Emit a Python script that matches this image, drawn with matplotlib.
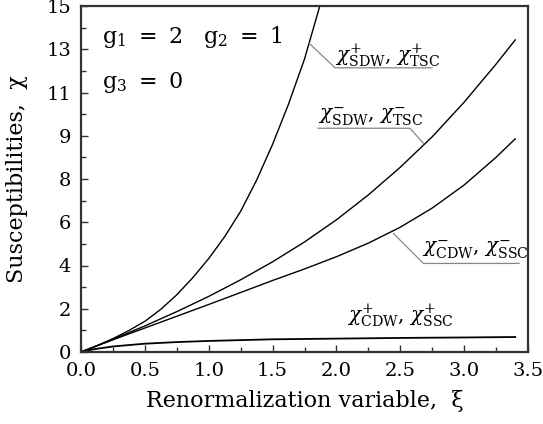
import matplotlib
matplotlib.use("Agg")
import matplotlib.pyplot as plt
from matplotlib.ticker import FixedLocator, MultipleLocator
import numpy as np

plt.rcParams['font.family'] = ['DejaVu Serif']
plt.rcParams['mathtext.fontset'] = 'dejavuserif'

# ---- data ----
xi_sdw_plus = [0.0, 0.125, 0.25, 0.375, 0.5, 0.625, 0.75, 0.875, 1.0, 1.125,
               1.25, 1.375, 1.5, 1.625, 1.75, 1.87]
chi_sdw_plus = [0.0, 0.27, 0.58, 0.93, 1.33, 1.85, 2.48, 3.22, 4.05, 5.0,
                6.1, 7.45, 9.0, 10.75, 12.7, 15.0]

xi_main = [0.0, 0.25, 0.5, 0.75, 1.0, 1.25, 1.5, 1.75, 2.0, 2.25, 2.5, 2.75, 3.0, 3.25, 3.4]
chi_sdw_minus = [0.0, 0.55, 1.13, 1.75, 2.41, 3.13, 3.91, 4.77, 5.73, 6.81, 8.01, 9.33, 10.83, 12.48, 13.53]
chi_cdw_minus = [0.0, 0.53, 1.04, 1.55, 2.06, 2.58, 3.1, 3.6, 4.13, 4.72, 5.41, 6.24, 7.24, 8.44, 9.24]

xi_cdw_plus = [0.0, 0.1, 0.25, 0.5, 0.75, 1.0, 1.5, 2.0, 2.5, 3.0, 3.4]
chi_cdw_plus = [0.0, 0.12, 0.24, 0.36, 0.43, 0.48, 0.55, 0.58, 0.61, 0.63, 0.65]

y_ticks = list(np.linspace(0, 15, 9))
y_ticklabels = ["0", "2", "4", "6", "8", "9", "11", "13", "15"]
x_ticks = [0.0, 0.5, 1.0, 1.5, 2.0, 2.5, 3.0, 3.5]
x_ticklabels = ["0.0", "0.5", "1.0", "1.5", "2.0", "2.5", "3.0", "3.5"]

labels = [r"$\chi^{+}_{\rm SDW}$, $\chi^{+}_{\rm TSC}$",
          r"$\chi^{-}_{\rm SDW}$, $\chi^{-}_{\rm TSC}$",
          r"$\chi^{-}_{\rm CDW}$, $\chi^{-}_{\rm SSC}$",
          r"$\chi^{+}_{\rm CDW}$, $\chi^{+}_{\rm SSC}$"]

fig = plt.figure(figsize=(5.43, 4.24), dpi=100)
ax = fig.add_axes([81/543, (424-352)/424, 447/543, 346/424])

ax.plot(xi_sdw_plus, chi_sdw_plus, color='black', lw=1.0)
ax.plot(xi_main, chi_sdw_minus, color='black', lw=1.0)
ax.plot(xi_main, chi_cdw_minus, color='black', lw=1.0)
ax.plot(xi_cdw_plus, chi_cdw_plus, color='black', lw=1.3)

ax.set_xlim(0, 3.5)
ax.set_ylim(0, 15)
ax.yaxis.set_major_locator(FixedLocator(y_ticks))
ax.set_yticklabels(y_ticklabels)
ax.yaxis.set_minor_locator(FixedLocator(list(np.arange(0, 15.01, 15/16))))
ax.set_xticks(x_ticks)
ax.set_xticklabels(x_ticklabels)
ax.xaxis.set_minor_locator(MultipleLocator(0.25))
ax.tick_params(which='both', direction='in', labelsize=14, pad=7, color='#333')
ax.tick_params(which='major', length=5, width=1.0)
ax.tick_params(which='minor', length=3.5, width=1.0)
for s in ax.spines.values():
    s.set_color('#333')
    s.set_linewidth(1.6)

ax.set_xlabel("Renormalization variable,  \u03be", fontsize=16)
ax.xaxis.set_label_coords(0.5, -0.11)
ax.set_ylabel("Susceptibilities,  \u03c7", fontsize=16)
ax.yaxis.set_label_coords(-0.1186, 0.5)

ax.text(0.162, 13.39, r"$\rm g_1\ =\ 2\quad g_2\ =\ 1$", fontsize=16, va='baseline', ha='left')
ax.text(0.162, 11.44, r"$\rm g_3\ =\ 0$", fontsize=16, va='baseline', ha='left')

gray = '#888888'
# label 1
ax.text(1.989, 12.57, labels[0], fontsize=14.5, va='baseline', ha='left')
ax.plot([1.788, 1.989, 2.749], [13.38, 12.32, 12.32], color=gray, lw=0.9)
# label 2
ax.text(1.856, 10.06, labels[1], fontsize=14.5, va='baseline', ha='left')
ax.plot([1.856, 2.576, 2.681], [9.70, 9.70, 9.05], color=gray, lw=0.9)
# label 3
ax.text(2.668, 4.29, labels[2], fontsize=14.5, va='baseline', ha='left')
ax.plot([2.446, 2.681, 3.43], [5.14, 3.84, 3.84], color=gray, lw=0.9)
# label 4
ax.text(2.081, 1.31, labels[3], fontsize=14.5, va='baseline', ha='left')

fig.savefig("out.png", dpi=100)
